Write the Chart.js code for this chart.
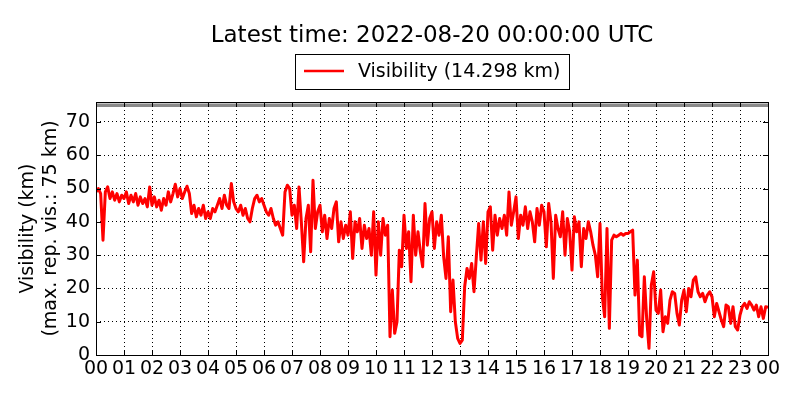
<!DOCTYPE html>
<html>
<head>
<meta charset="utf-8">
<title>Visibility</title>
<script src="https://cdn.jsdelivr.net/npm/chart.js@4.4.1/dist/chart.umd.min.js"></script>
<style>
    html, body { margin: 0; padding: 0; background: #fff; }
    #wrap { width: 800px; height: 400px; }
</style>
</head>
<body>
<div id="wrap"><canvas id="vis-chart" width="800" height="400"></canvas></div>
<script>
'use strict';

const titleText = 'Latest time: 2022-08-20 00:00:00 UTC';
const tickLabels = ['00', '01', '02', '03', '04', '05', '06', '07', '08', '09', '10', '11',
    '12', '13', '14', '15', '16', '17', '18', '19', '20', '21', '22', '23', '00'];
const yTicks = [0, 10, 20, 30, 40, 50, 60, 70];
const maxReportedVis = 75;
const stepMinutes = 5;

// visibility (km), one value every 5 minutes
const vis00to06 = [
    49, 50, 48.5, 34.5, 49, 50.5, 47, 49, 46.5, 48.5, 46, 48,
    47, 49, 45.5, 48, 46, 48.5, 45, 47.5, 45.5, 47, 44.5, 50.5,
    45, 47.5, 44.5, 46.5, 43.5, 47, 45, 49, 46, 48.5, 51.3, 47.5,
    50, 47, 49, 50.7, 48.5, 42.5, 45, 41.5, 44, 42, 45, 41,
    43, 41, 44, 43, 45, 47, 44, 48, 45, 44, 51.5, 46,
    44, 43, 45, 42, 44, 41, 40, 44, 47, 48, 46, 47
];
const vis06to12 = [
    45, 43, 42, 44, 41, 39, 40, 38, 36, 49, 51, 50,
    42, 45, 38, 50.5, 40, 28, 41, 45, 31, 52.5, 38, 43,
    45, 37, 42, 35, 41, 38, 44, 46, 34, 40, 35, 39,
    36, 43, 29, 40, 37, 41, 32, 39, 35, 38, 30, 43,
    24, 40, 30, 41, 36, 39, 5.5, 19.5, 6.5, 10, 31.5, 26.5,
    42, 32, 37, 22, 42, 30, 37, 31, 26.5, 45.5, 33, 41
];
const vis12to18 = [
    43, 32, 40, 36, 42, 29.5, 23, 35.5, 13, 22.5, 10, 5,
    3.5, 4.5, 20.5, 26, 23, 27.5, 19, 29.5, 39.5, 28.5, 40, 27.5,
    43, 44.5, 31.5, 42, 36, 41, 38, 42, 36, 49, 39, 43,
    47.5, 35, 42, 39, 44.5, 38, 43, 40, 34, 44, 39, 45,
    43, 32.5, 45.5, 40, 23, 42, 38, 35.5, 43, 30, 41, 37,
    25.5, 41.5, 37, 40, 26.5, 38, 35, 40, 37, 33, 30, 23.5
];
const vis18to24 = [
    39.5, 17.5, 11.5, 38, 8, 34.5, 36, 35.5, 36, 36.5, 36, 36.5,
    36.5, 37, 37.5, 18, 28.5, 6, 5.5, 23.5, 11, 2, 21, 25,
    13.5, 12.5, 19.5, 7, 11.5, 9.5, 16.5, 19, 18.5, 12.5, 9, 16.5,
    19.5, 13, 20, 17.5, 22.5, 23.5, 19, 17.5, 18.5, 16, 18, 19,
    17.5, 11.5, 15.5, 13, 10.5, 8.5, 15, 14.5, 9.5, 14.5, 8.5, 7.5,
    12, 14.5, 15.5, 14, 16, 15, 13.5, 15, 11.5, 14.5, 11, 14.5,
    14.298
];

const visibility = [...vis00to06, ...vis06to12, ...vis12to18, ...vis18to24];
const latestVis = visibility[visibility.length - 1];
const FONT = '"DejaVu Sans", sans-serif';

const framePlugin = {
    id: 'frame',
    afterDatasetsDraw(chart) {
        const { ctx, chartArea: a, scales: { x, y } } = chart;
        ctx.save();
        ctx.strokeStyle = '#000';
        ctx.lineWidth = 1;
        ctx.beginPath();
        tickLabels.forEach((_, i) => {
            const px = Math.round(x.getPixelForValue(i)) + 0.5;
            ctx.moveTo(px, a.bottom); ctx.lineTo(px, a.bottom - 5);
            ctx.moveTo(px, a.top); ctx.lineTo(px, a.top + 5);
        });
        yTicks.forEach(v => {
            const py = Math.round(y.getPixelForValue(v)) + 0.5;
            ctx.moveTo(a.left, py); ctx.lineTo(a.left + 5, py);
            ctx.moveTo(a.right, py); ctx.lineTo(a.right - 5, py);
        });
        ctx.stroke();
        ctx.strokeRect(Math.round(a.left) + 0.5, Math.round(a.top) + 0.5,
            Math.round(a.right - a.left), Math.round(a.bottom - a.top));
        ctx.restore();
    },
    afterDraw(chart) {
        const { ctx, chartArea: a } = chart;
        const cx = (a.left + a.right) / 2;
        ctx.save();
        ctx.fillStyle = '#000';
        ctx.textBaseline = 'middle';
        ctx.textAlign = 'center';
        ctx.font = `23px ${FONT}`;
        ctx.fillText(titleText, cx, 36);

        // legend box
        const label = `Visibility (${latestVis.toFixed(3)} km)`;
        ctx.font = `19px ${FONT}`;
        const tw = ctx.measureText(label).width;
        const boxW = Math.round(63 + tw + 8);
        const boxL = Math.round(cx - boxW / 2);
        ctx.strokeStyle = '#000';
        ctx.lineWidth = 1;
        ctx.strokeRect(boxL + 0.5, 54.5, boxW, 35);
        ctx.strokeStyle = '#ff0000';
        ctx.lineWidth = 2.5;
        ctx.beginPath();
        ctx.moveTo(boxL + 9, 71);
        ctx.lineTo(boxL + 49, 71);
        ctx.stroke();
        ctx.textAlign = 'left';
        ctx.fillText(label, boxL + 63, 72);
        ctx.restore();
    }
};

function buildChart() {
    const ctx = document.getElementById('vis-chart').getContext('2d');
    const points = visibility.map((v, i) => ({ x: i * stepMinutes / 60, y: v }));

    return new Chart(ctx, {
        type: 'line',
        data: {
            datasets: [
                {
                    label: 'max',
                    data: [{ x: 0, y: maxReportedVis }, { x: 24, y: maxReportedVis }],
                    borderColor: '#8a8a8a',
                    borderWidth: 3.5,
                    pointRadius: 0
                },
                {
                    label: 'Visibility',
                    data: points,
                    borderColor: '#ff0000',
                    borderWidth: 3,
                    borderJoinStyle: 'round',
                    pointRadius: 0,
                    tension: 0
                }
            ]
        },
        options: {
            responsive: false,
            animation: false,
            events: [],
            layout: { padding: { top: 102, right: 32, bottom: 0, left: 0 } },
            plugins: {
                legend: { display: false },
                title: { display: false },
                tooltip: { enabled: false }
            },
            scales: {
                x: {
                    type: 'linear',
                    min: 0,
                    max: 24,
                    afterBuildTicks: (scale) => { scale.ticks = tickLabels.map((_, i) => ({ value: i })); },
                    afterFit: (scale) => { scale.height = 45; },
                    ticks: {
                        autoSkip: false,
                        maxRotation: 0,
                        minRotation: 0,
                        padding: 3,
                        color: '#000',
                        font: { family: FONT, size: 19 },
                        callback: (v) => tickLabels[Math.round(v)]
                    },
                    grid: { color: '#000', lineWidth: 1, drawTicks: false },
                    border: { display: false, dash: [1, 3] }
                },
                y: {
                    min: 0,
                    max: 76,
                    afterBuildTicks: (scale) => { scale.ticks = yTicks.map(v => ({ value: v })); },
                    afterFit: (scale) => { scale.width = 96; },
                    ticks: {
                        padding: 6,
                        color: '#000',
                        font: { family: FONT, size: 19 }
                    },
                    grid: { color: '#000', lineWidth: 1, drawTicks: false },
                    border: { display: false, dash: [1, 3] },
                    title: {
                        display: true,
                        text: ['Visibility (km)', `(max. rep. vis.: ${maxReportedVis} km)`],
                        color: '#000',
                        font: { family: FONT, size: 19 },
                        padding: { top: 17, bottom: 0 }
                    }
                }
            }
        },
        plugins: [framePlugin]
    });
}

buildChart();
</script>
</body>
</html>
